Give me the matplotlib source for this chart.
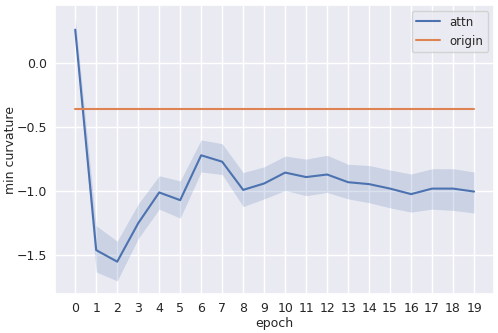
import matplotlib
matplotlib.use("Agg")
import matplotlib.pyplot as plt
import seaborn as sns
import numpy as np

sns.set_theme(style="darkgrid")

epochs = list(range(20))
attn_mean = [0.26, -1.46, -1.55, -1.25, -1.01, -1.07, -0.72, -0.77, -0.99, -0.94,
             -0.855, -0.89, -0.87, -0.93, -0.945, -0.98, -1.023, -0.98, -0.98, -1.003]
attn_upper = [0.35, -1.27, -1.39, -1.10, -0.88, -0.92, -0.60, -0.63, -0.855, -0.81,
              -0.726, -0.75, -0.72, -0.79, -0.80, -0.835, -0.866, -0.825, -0.825, -0.85]
attn_lower = [0.22, -1.63, -1.70, -1.37, -1.14, -1.21, -0.85, -0.87, -1.12, -1.06,
              -0.995, -1.035, -1.01, -1.06, -1.09, -1.13, -1.163, -1.14, -1.15, -1.17]
origin_mean = [-0.357] * 20
origin_upper = [-0.350] * 20
origin_lower = [-0.364] * 20

blue = "#4c72b0"
orange = "#dd8452"

fig = plt.figure(figsize=(4.98, 3.33), dpi=100)
ax = fig.add_axes([0.111, 0.117, 0.881, 0.868])

ax.plot(epochs, attn_mean, color=blue, lw=1.5, label="attn")
ax.fill_between(epochs, attn_lower, attn_upper, color=blue, alpha=0.2, lw=0)
ax.plot(epochs, origin_mean, color=orange, lw=1.5, label="origin")
ax.fill_between(epochs, origin_lower, origin_upper, color=orange, alpha=0.2, lw=0)

ax.set_xticks(epochs)
ax.set_yticks([0.0, -0.5, -1.0, -1.5])
ax.tick_params(axis="x", labelsize=9, length=0, pad=6)
ax.tick_params(axis="y", labelsize=9, length=0, pad=6)
ax.set_xlabel("epoch", fontsize=9, labelpad=1)
ax.set_ylabel("min curvature", fontsize=9)
ax.yaxis.set_label_coords(-0.088, 0.5)
ax.legend(loc="upper right", fontsize=8.5)

fig.savefig("out.png", dpi=100)
